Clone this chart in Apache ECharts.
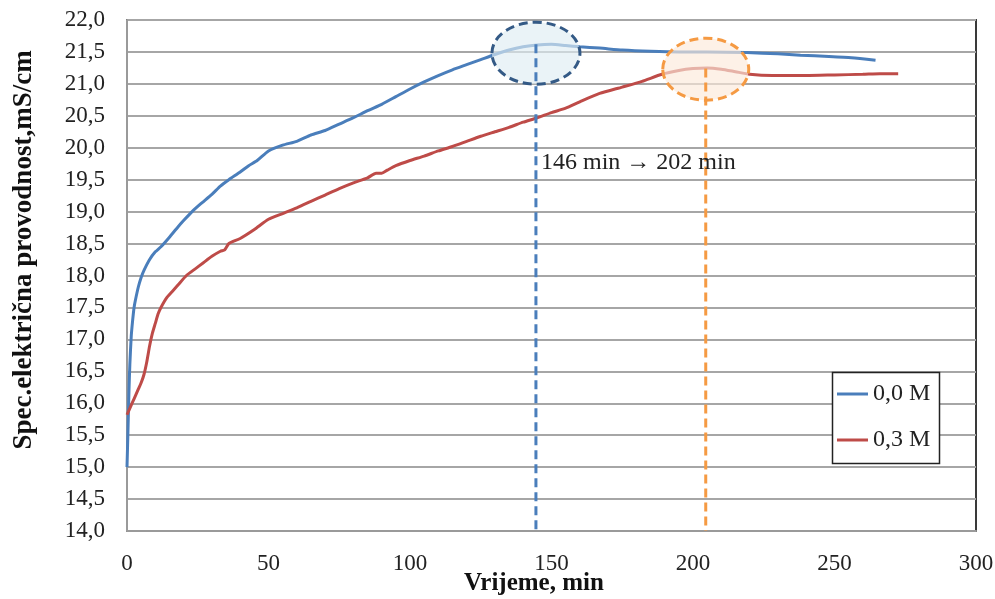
<!DOCTYPE html>
<html>
<head>
<meta charset="utf-8">
<script src="https://cdn.jsdelivr.net/npm/echarts@6/dist/echarts.min.js"></script>
<style>
html,body{margin:0;padding:0;background:#fff;}
#c{width:995px;height:599px;}
</style>
</head>
<body>
<div id="c"></div>
<script>
// ---- Data ----
const blueT = [0,0.3,0.7,1,1.5,2,2.5,3,4,5,6,8,10,12,15,18,20,23,26,30,33,36,40,43,46,50,55,60,65,70,75,80,85,90,95,100,105,110,115,120,125,130,135,140,145,150,155,160,167,175,185,195,205,219,230,238,248,256,264.5];
const blueV = [15.0,15.5,16.2,16.6,17.05,17.3,17.5,17.62,17.82,17.97,18.08,18.25,18.37,18.45,18.6,18.76,18.86,19.0,19.12,19.27,19.4,19.5,19.62,19.72,19.8,19.95,20.04,20.1,20.2,20.27,20.37,20.47,20.58,20.68,20.8,20.92,21.03,21.13,21.22,21.3,21.38,21.46,21.53,21.58,21.61,21.62,21.6,21.58,21.56,21.53,21.51,21.5,21.5,21.49,21.47,21.45,21.43,21.41,21.37];
const redT = [0,1,2,3,4,5,6,7,8,9,10,11,12,14,16,18,21,24,27,30,33,34.5,36,40,45,50,55,60,65,70,75,80,85,88,90,92,95,100,105,110,115,120,125,130,135,140,145,150,155,160,167,175,182,189,195,200,205,210,215,220,228,240,250,260,266,272.5];
const redV = [15.82,15.92,16.02,16.12,16.22,16.32,16.45,16.65,16.9,17.1,17.25,17.4,17.5,17.65,17.75,17.85,18.0,18.1,18.2,18.3,18.38,18.4,18.5,18.58,18.72,18.88,18.97,19.06,19.16,19.26,19.36,19.45,19.53,19.6,19.6,19.65,19.72,19.8,19.87,19.95,20.02,20.1,20.18,20.25,20.32,20.4,20.47,20.55,20.62,20.72,20.85,20.95,21.04,21.15,21.21,21.24,21.25,21.23,21.19,21.15,21.13,21.13,21.14,21.15,21.16,21.16];
const seriesNames = ['0,0 M','0,3 M'];
const xTicks = [0,50,100,150,200,250,300];
const xTitle = 'Vrijeme, min';
const yTitle = 'Spec.električna provodnost,mS/cm';
// annotation markers: [time, top value]
const blueMark = {t:144.5, peak:21.62, ellV:21.48};
const orangeMark = {t:204.5, peak:21.24, ellV:21.23};
const annotationText = '146 min \u2192 202 min';
const annotationPos = [146.3, 19.76];

const serif = '"Liberation Serif","Times New Roman",serif';
const chart = echarts.init(document.getElementById('c'), null, {renderer:'canvas'});

const pairs = (t,v)=>t.map((x,i)=>[x,v[i]]);

chart.setOption({
  animation:false,
  backgroundColor:'#fff',
  grid:{left:127,right:19,top:20,bottom:68,show:true,borderColor:'#3a3a3a',borderWidth:2,
        backgroundColor:'transparent',containLabel:false,outerBoundsMode:'none'},
  legend:{
    orient:'vertical', left:837, top:382, padding:0, itemWidth:31, itemHeight:3, itemGap:22, icon:'rect',
    textStyle:{fontFamily:serif,fontSize:24,color:'#222'},
    data:seriesNames
  },
  xAxis:{
    type:'value', min:0, max:300, interval:50,
    axisLine:{show:true,lineStyle:{color:'#9a9a9a',width:2}},
    axisTick:{show:false},
    splitLine:{show:false},
    axisLabel:{fontFamily:serif,fontSize:23,color:'#222',margin:21,
      formatter:v=>xTicks.includes(v)?String(v):''}
  },
  yAxis:{
    type:'value', min:14, max:22, interval:0.5,
    axisLine:{show:true,lineStyle:{color:'#9a9a9a',width:2}},
    axisTick:{show:false},
    splitLine:{show:true,lineStyle:{color:'#a6a6a6',width:2}},
    axisLabel:{fontFamily:serif,fontSize:23,color:'#222',margin:22,
      formatter:v=>v.toFixed(1).replace('.',',')}
  },
  series:[
    {name:seriesNames[0],type:'line',data:pairs(blueT,blueV),symbol:'none',smooth:0.2,
     lineStyle:{color:'#4a7ebb',width:3},itemStyle:{color:'#4a7ebb'},z:3},
    {name:seriesNames[1],type:'line',data:pairs(redT,redV),symbol:'none',smooth:0.2,
     lineStyle:{color:'#be4b48',width:3},itemStyle:{color:'#be4b48'},z:3}
  ]
});

function px(p){return chart.convertToPixel({gridIndex:0},p);}
const bTop = px([blueMark.t, blueMark.peak]), bBot = px([blueMark.t,14]);
const oTop = px([orangeMark.t, orangeMark.peak]), oBot = px([orangeMark.t,14]);
const bC = px([blueMark.t, blueMark.ellV]), oC = px([orangeMark.t, orangeMark.ellV]);
const tp = px(annotationPos);

chart.setOption({
  graphic:[
    {type:'rect', z:1, shape:{x:832.5,y:372.5,width:107,height:91},
     style:{fill:'#fff',stroke:'#222',lineWidth:1.5}},
    {type:'ellipse', z:50, shape:{cx:bC[0],cy:bC[1],rx:44,ry:31},
     style:{fill:'rgba(222,236,243,0.65)',stroke:'#345a86',lineWidth:3,lineDash:[9,5]}},
    {type:'ellipse', z:50, shape:{cx:oC[0],cy:oC[1],rx:43,ry:31},
     style:{fill:'rgba(252,234,218,0.65)',stroke:'#f59a43',lineWidth:3,lineDash:[9,5]}},
    {type:'line', z:51, shape:{x1:bTop[0],y1:bTop[1],x2:bBot[0],y2:bBot[1]},
     style:{stroke:'#4a7ebb',lineWidth:3,lineDash:[9,5]}},
    {type:'line', z:51, shape:{x1:oTop[0],y1:oTop[1],x2:oBot[0],y2:oBot[1]},
     style:{stroke:'#f59a43',lineWidth:3,lineDash:[9,5]}},
    {type:'text', z:52, x:tp[0], y:tp[1],
     style:{text:annotationText,font:'24px '+serif,fill:'#222',textVerticalAlign:'middle',textAlign:'left'}},
    {type:'text', z:52, x:24, y:250, rotation:Math.PI/2,
     style:{text:yTitle,font:'bold 27px '+serif,fill:'#111',textVerticalAlign:'middle',textAlign:'center'}},
    {type:'text', z:52, x:534, y:584,
     style:{text:xTitle,font:'bold 25px '+serif,fill:'#111',textVerticalAlign:'middle',textAlign:'center'}}
  ]
});
</script>
</body>
</html>
